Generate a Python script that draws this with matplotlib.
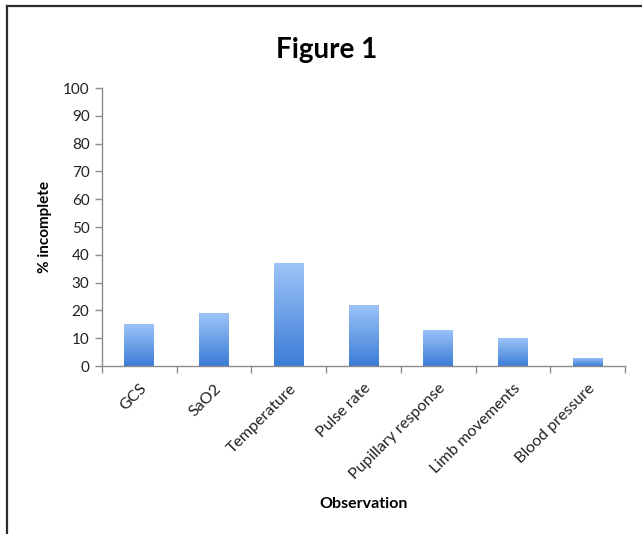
import numpy as np
import matplotlib
matplotlib.use("Agg")
import matplotlib.pyplot as plt
from matplotlib.colors import LinearSegmentedColormap
from matplotlib.lines import Line2D

plt.rcParams['font.family'] = ['Lato', 'DejaVu Sans']

categories = ["GCS", "SaO2", "Temperature", "Pulse rate",
              "Pupillary response", "Limb movements", "Blood pressure"]
pct_incomplete = [15, 19, 37, 22, 13, 10, 3]
y_ticks = [0, 10, 20, 30, 40, 50, 60, 70, 80, 90, 100]

fig = plt.figure(figsize=(6.42, 5.34), dpi=100)
ax = fig.add_axes([0.1589, 0.3146, 0.8146, 0.5206])

grad = LinearSegmentedColormap.from_list("barfill", ["#3b7dd6", "#9dc4f8"])
x = np.arange(len(categories))
bars = ax.bar(x, pct_incomplete, width=0.4, facecolor="none", edgecolor="none")
for b in bars:
    x0, w, h = b.get_x(), b.get_width(), b.get_height()
    img = ax.imshow(np.linspace(0, 1, 256).reshape(-1, 1), cmap=grad,
                    origin="lower", extent=(x0, x0 + w, 0, h),
                    aspect="auto", zorder=2, interpolation="bilinear")
    img.set_clip_path(b)

ax.set_xlim(-0.5, len(categories) - 0.5)
ax.set_ylim(0, 100)
ax.set_yticks(y_ticks)
ax.set_yticklabels([str(v) for v in y_ticks], fontsize=11, color="#222222")

# category ticks sit on boundaries, labels at centres
ax.set_xticks(np.arange(len(categories) + 1) - 0.5)
ax.set_xticklabels([])
ax.set_xticks(x, minor=True)
ax.set_xticklabels(categories, minor=True, rotation=45, ha="right", va="top",
                   rotation_mode="anchor", fontsize=11.5, color="#222222")
ax.tick_params(axis="x", which="minor", length=0, pad=11)
ax.tick_params(axis="x", which="major", length=5, color="#8c8c8c", width=1)
ax.tick_params(axis="y", length=5, color="#8c8c8c", width=1, pad=4)

for side in ("top", "right"):
    ax.spines[side].set_visible(False)
for side in ("left", "bottom"):
    ax.spines[side].set_color("#8c8c8c")
    ax.spines[side].set_linewidth(1)

ax.set_ylabel("% incomplete", fontsize=11, fontweight="bold", labelpad=8)
fig.text(0.567, 0.0487, "Observation", ha="center", va="baseline",
         fontsize=11.5, fontweight="bold")
fig.text(0.509, 0.8914, "Figure 1", ha="center", va="baseline",
         fontsize=20, fontweight="bold")

# frame lines along left and top edges
fig.add_artist(Line2D([0.0109, 0.0109], [0.0, 0.9895], transform=fig.transFigure,
                      color="#2b2b2b", lw=1.6))
fig.add_artist(Line2D([0.0109, 1.0], [0.9895, 0.9895], transform=fig.transFigure,
                      color="#2b2b2b", lw=1.6))

fig.savefig("out.png", dpi=100)
